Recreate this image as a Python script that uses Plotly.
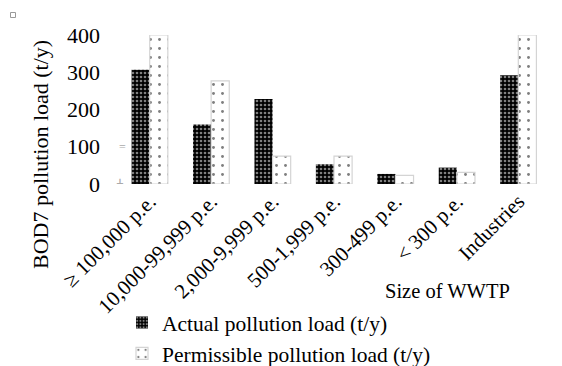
import plotly.graph_objects as go

categories = ["≥ 100,000 p.e.", "10,000-99,999 p.e.", "2,000-9,999 p.e.",
              "500-1,999 p.e.", "300-499 p.e.", "< 300 p.e.", "Industries"]
actual_load = [307, 160, 228, 53, 27, 44, 292]
permissible_load = [400, 277, 75, 75, 23, 31, 400]
y_ticks = [0, 100, 200, 300, 400]

FONT = "Liberation Serif"
W, H = 562, 366
L, R, T, B = 119, 13, 35, 182
PW, PH = W - L - R, H - T - B


def px(x):
    """Horizontal pixel -> paper fraction."""
    return (x - L) / PW


def py(y):
    """Vertical pixel (from top) -> paper fraction."""
    return (H - B - y) / PH


fig = go.Figure()
fig.add_trace(go.Bar(
    x=categories, y=actual_load, name="Actual pollution load (t/y)",
    marker=dict(color="black", line=dict(width=0),
                pattern=dict(shape=".", bgcolor="black", fgcolor="white",
                             size=4, solidity=0.35, fillmode="overlay")),
))
fig.add_trace(go.Bar(
    x=categories, y=permissible_load, name="Permissible pollution load (t/y)",
    marker=dict(color="white", line=dict(width=1.2, color="#d4d4d4"),
                pattern=dict(shape=".", bgcolor="white", fgcolor="black",
                             size=9, solidity=0.08, fillmode="overlay")),
))

fig.update_layout(
    width=W, height=H,
    margin=dict(l=L, r=R, t=T, b=B, autoexpand=False),
    paper_bgcolor="white", plot_bgcolor="white",
    barmode="group", bargap=0.41, bargroupgap=0,
    font=dict(family=FONT, color="black", size=20),
    showlegend=True,
    legend=dict(x=px(122), xref="paper", y=1 - 302 / H, yref="container",
                xanchor="left", yanchor="top",
                font=dict(family=FONT, size=21.5), itemwidth=30,
                tracegroupgap=0, bgcolor="rgba(0,0,0,0)"),
    xaxis=dict(tickangle=-45, tickfont=dict(size=21), showline=False,
               showgrid=False, ticks="", automargin=False),
    yaxis=dict(range=[0, 400], tickvals=y_ticks, showgrid=False,
               showline=False, zeroline=False, ticks="", automargin=False,
               tickfont=dict(size=22), ticklabelstandoff=18),
    annotations=[
        dict(text="BOD7 pollution load (t/y)", x=px(40), y=py(155),
             xref="paper", yref="paper", xanchor="center", yanchor="middle",
             showarrow=False, textangle=-90, font=dict(size=22)),
        dict(text="Size of WWTP", x=px(447), y=py(291), xref="paper",
             yref="paper", xanchor="center", yanchor="middle",
             showarrow=False, font=dict(size=20.5)),
        dict(text="=", x=px(122), y=100, xref="paper", yref="y",
             xanchor="center", yanchor="middle",
             showarrow=False, font=dict(size=12, color="#aaaaaa")),
        dict(text="ᚆ", x=px(120), y=3, xref="paper", yref="y",
             xanchor="center", yanchor="middle",
             showarrow=False, font=dict(size=12, color="#aaaaaa")),
    ],
    shapes=[dict(type="rect", xref="paper", yref="paper",
                 x0=px(10.5), x1=px(15.5), y0=py(12.5), y1=py(17.5),
                 line=dict(color="#999999", width=1))],
)

fig.write_html("out.html")
